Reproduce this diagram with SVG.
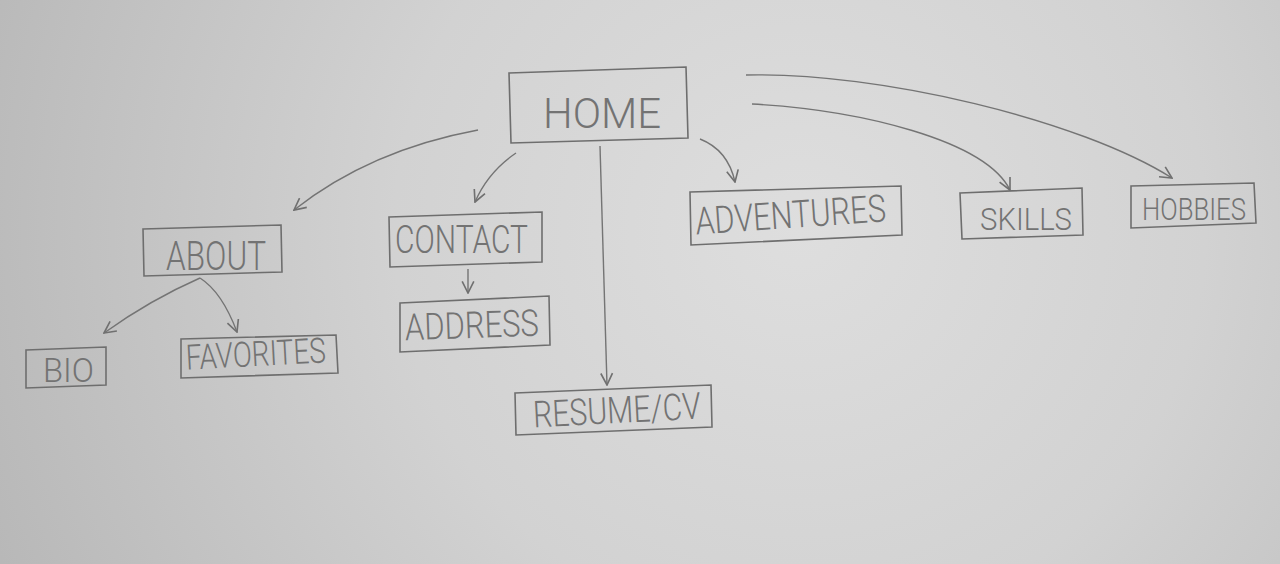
<svg xmlns="http://www.w3.org/2000/svg" width="1280" height="564" viewBox="0 0 1280 564">
<defs>
<radialGradient id="paper" cx="800" cy="230" r="900" gradientUnits="userSpaceOnUse">
<stop offset="0" stop-color="#dedede"/>
<stop offset="0.45" stop-color="#d2d2d2"/>
<stop offset="1" stop-color="#b6b6b6"/>
</radialGradient>
<marker id="arr" viewBox="0 0 12 12" refX="11" refY="6" markerWidth="14" markerHeight="14" markerUnits="userSpaceOnUse" orient="auto">
<path d="M1,1 L11,6 L1,11" fill="none" stroke="#707070" stroke-width="1.4"/>
</marker>
</defs>
<style>
.box{fill:none;stroke:#6e6e6e;stroke-width:1.6;stroke-linejoin:miter}
.lbl{font-family:Roboto,"Liberation Sans",Arial,sans-serif;fill:#737373;font-weight:300}
.edge{fill:none;stroke:#747474;stroke-width:1.4;marker-end:url(#arr)}
</style>
<rect x="0" y="0" width="1280" height="564" fill="url(#paper)"/>

<g id="connectors">
<path class="edge" d="M478,130 Q370,150 294,210"/>
<path class="edge" d="M516,153 Q488,172 475,202"/>
<path class="edge" d="M468,269 L468,293"/>
<path class="edge" d="M200,278 Q150,300 104,333"/>
<path class="edge" d="M200,278 Q222,292 237,332"/>
<path class="edge" d="M600,146 L607,385"/>
<path class="edge" d="M700,139 Q728,150 735,182"/>
<path class="edge" d="M752,104 C860,110 985,140 1010,190"/>
<path class="edge" d="M746,75 C880,72 1080,120 1172,178"/>
</g>

<g id="home">
<path class="box" d="M509,73 L686,67 L688,138 L511,143 Z"/>
<text class="lbl" x="543" y="128" font-size="43" textLength="118" lengthAdjust="spacingAndGlyphs">HOME</text>
</g>
<g id="about">
<path class="box" d="M143,229 L281,225 L282,272 L144,276 Z"/>
<text class="lbl" x="166" y="270" font-size="40" textLength="100" lengthAdjust="spacingAndGlyphs">ABOUT</text>
</g>
<g id="contact">
<path class="box" d="M389,217 L542,212 L542,262 L390,267 Z"/>
<text class="lbl" x="395" y="253" font-size="38" textLength="133" lengthAdjust="spacingAndGlyphs">CONTACT</text>
</g>
<g id="address">
<path class="box" d="M400,303 L549,296 L550,345 L400,352 Z"/>
<text class="lbl" x="405" y="338" font-size="37" textLength="134" lengthAdjust="spacingAndGlyphs" transform="rotate(-2 470 330)">ADDRESS</text>
</g>
<g id="bio">
<path class="box" d="M26,350 L106,347 L106,385 L26,388 Z"/>
<text class="lbl" x="43" y="382" font-size="33" textLength="51" lengthAdjust="spacingAndGlyphs">BIO</text>
</g>
<g id="favorites">
<path class="box" d="M181,339 L336,335 L338,373 L181,378 Z"/>
<text class="lbl" x="186" y="366" font-size="35" textLength="140" lengthAdjust="spacingAndGlyphs" transform="rotate(-3 256 356)">FAVORITES</text>
</g>
<g id="resume">
<path class="box" d="M515,393 L711,385 L712,427 L516,435 Z" stroke="#8a8a8a"/>
<text class="lbl" x="533" y="423" font-size="37" textLength="168" lengthAdjust="spacingAndGlyphs" fill="#8e8e8e" transform="rotate(-3 618 412)">RESUME/CV</text>
</g>
<g id="adventures">
<path class="box" d="M690,192 L901,186 L902,235 L691,245 Z"/>
<text class="lbl" x="695" y="228" font-size="38" textLength="191" lengthAdjust="spacingAndGlyphs" transform="rotate(-4 790 215)">ADVENTURES</text>
</g>
<g id="skills">
<path class="box" d="M960,193 L1082,188 L1083,235 L962,239 Z"/>
<text class="lbl" x="980" y="230" font-size="32" textLength="92" lengthAdjust="spacingAndGlyphs">SKILLS</text>
</g>
<g id="hobbies">
<path class="box" d="M1131,186 L1254,183 L1256,223 L1131,228 Z"/>
<text class="lbl" x="1142" y="220" font-size="32" textLength="104" lengthAdjust="spacingAndGlyphs">HOBBIES</text>
</g>
</svg>
